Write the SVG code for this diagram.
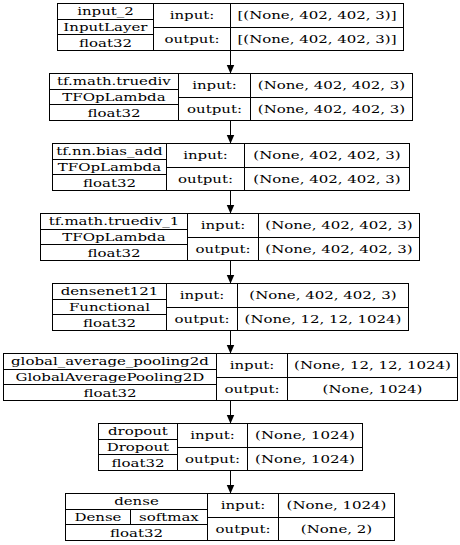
<svg xmlns="http://www.w3.org/2000/svg" width="460" height="545" viewBox="0 0 460 545">
<defs>
<style>
rect.box{fill:#fff;stroke:#000;stroke-width:1}
path.div{fill:none;stroke:#000;stroke-width:1}
text{font-family:"DejaVu Serif","Liberation Serif",serif;font-size:11px;fill:#000;text-anchor:middle;transform-box:fill-box;transform-origin:center;transform:scaleX(1.36)}
.edge{fill:none;stroke:#000;stroke-width:1}
</style>
<marker id="ah" markerUnits="userSpaceOnUse" markerWidth="9" markerHeight="9" refX="9" refY="4" orient="auto"><path d="M0,0 L9,4 L0,8 z" fill="#000"/></marker>
</defs>
<rect width="460" height="545" fill="#fff"/>
<g id="edges">
<path class="edge" d="M230.5,50.5 V73.5" marker-end="url(#ah)"/>
<path class="edge" d="M230.5,120.5 V143.5" marker-end="url(#ah)"/>
<path class="edge" d="M230.5,190.5 V213.5" marker-end="url(#ah)"/>
<path class="edge" d="M230.5,260.5 V283.5" marker-end="url(#ah)"/>
<path class="edge" d="M230.5,330.5 V353.5" marker-end="url(#ah)"/>
<path class="edge" d="M230.5,400.5 V423.5" marker-end="url(#ah)"/>
<path class="edge" d="M230.5,470.5 V493.5" marker-end="url(#ah)"/>
</g>
<g id="input_2" transform="translate(0,3)">
<rect class="box" x="57.5" y="0.5" width="346" height="47"/>
<path class="div" d="M153.5,0.5V47.5M230.5,0.5V47.5M57.5,16.5H153.5M57.5,31.5H153.5M153.5,24.5H403.5"/>
<text x="105.5" y="12.5">input_2</text><text x="105.5" y="28">InputLayer</text><text x="105.5" y="44">float32</text>
<text x="192" y="16.5">input:</text><text x="192" y="40">output:</text>
<text x="317" y="16.5">[(None, 402, 402, 3)]</text><text x="317" y="40">[(None, 402, 402, 3)]</text>
</g>
<g id="tf_math_truediv" transform="translate(0,73)">
<rect class="box" x="49.5" y="0.5" width="363" height="47"/>
<path class="div" d="M178.5,0.5V47.5M250.5,0.5V47.5M49.5,16.5H178.5M49.5,31.5H178.5M178.5,24.5H412.5"/>
<text x="114" y="12.5">tf.math.truediv</text><text x="114" y="28">TFOpLambda</text><text x="114" y="44">float32</text>
<text x="214.5" y="16.5">input:</text><text x="214.5" y="40">output:</text>
<text x="331.5" y="16.5">(None, 402, 402, 3)</text><text x="331.5" y="40">(None, 402, 402, 3)</text>
</g>
<g id="tf_nn_bias_add" transform="translate(0,143)">
<rect class="box" x="52.5" y="0.5" width="357" height="47"/>
<path class="div" d="M166.5,0.5V47.5M244.5,0.5V47.5M52.5,16.5H166.5M52.5,31.5H166.5M166.5,24.5H409.5"/>
<text x="109.5" y="12.5">tf.nn.bias_add</text><text x="109.5" y="28">TFOpLambda</text><text x="109.5" y="44">float32</text>
<text x="205.5" y="16.5">input:</text><text x="205.5" y="40">output:</text>
<text x="327" y="16.5">(None, 402, 402, 3)</text><text x="327" y="40">(None, 402, 402, 3)</text>
</g>
<g id="tf_math_truediv_1" transform="translate(0,213)">
<rect class="box" x="40.5" y="0.5" width="379" height="47"/>
<path class="div" d="M187.5,0.5V47.5M258.5,0.5V47.5M40.5,16.5H187.5M40.5,31.5H187.5M187.5,24.5H419.5"/>
<text x="114" y="12.5">tf.math.truediv_1</text><text x="114" y="28">TFOpLambda</text><text x="114" y="44">float32</text>
<text x="223" y="16.5">input:</text><text x="223" y="40">output:</text>
<text x="339" y="16.5">(None, 402, 402, 3)</text><text x="339" y="40">(None, 402, 402, 3)</text>
</g>
<g id="densenet121" transform="translate(0,283)">
<rect class="box" x="52.5" y="0.5" width="356" height="47"/>
<path class="div" d="M166.5,0.5V47.5M237.5,0.5V47.5M52.5,16.5H166.5M52.5,31.5H166.5M166.5,24.5H408.5"/>
<text x="109.5" y="12.5">densenet121</text><text x="109.5" y="28">Functional</text><text x="109.5" y="44">float32</text>
<text x="202" y="16.5">input:</text><text x="202" y="40">output:</text>
<text x="323" y="16.5">(None, 402, 402, 3)</text><text x="323" y="40">(None, 12, 12, 1024)</text>
</g>
<g id="global_average_pooling2d" transform="translate(0,353)">
<rect class="box" x="3.5" y="0.5" width="454" height="47"/>
<path class="div" d="M216.5,0.5V47.5M287.5,0.5V47.5M3.5,16.5H216.5M3.5,31.5H216.5M216.5,24.5H457.5"/>
<text x="110" y="12.5">global_average_pooling2d</text><text x="110" y="28">GlobalAveragePooling2D</text><text x="110" y="44">float32</text>
<text x="252" y="16.5">input:</text><text x="252" y="40">output:</text>
<text x="372.5" y="16.5">(None, 12, 12, 1024)</text><text x="372.5" y="40">(None, 1024)</text>
</g>
<g id="dropout" transform="translate(0,423)">
<rect class="box" x="98.5" y="0.5" width="264" height="47"/>
<path class="div" d="M177.5,0.5V47.5M247.5,0.5V47.5M98.5,16.5H177.5M98.5,31.5H177.5M177.5,24.5H362.5"/>
<text x="138" y="12.5">dropout</text><text x="138" y="28">Dropout</text><text x="138" y="44">float32</text>
<text x="212.5" y="16.5">input:</text><text x="212.5" y="40">output:</text>
<text x="305" y="16.5">(None, 1024)</text><text x="305" y="40">(None, 1024)</text>
</g>
<g id="dense" transform="translate(0,493)">
<rect class="box" x="65.5" y="0.5" width="329" height="47"/>
<path class="div" d="M207.5,0.5V47.5M278.5,0.5V47.5M65.5,16.5H207.5M65.5,31.5H207.5M130.5,16.5V31.5M207.5,24.5H394.5"/>
<text x="136.5" y="12.5">dense</text><text x="98" y="28">Dense</text><text x="169" y="28">softmax</text><text x="136.5" y="44">float32</text>
<text x="243" y="16.5">input:</text><text x="243" y="40">output:</text>
<text x="336.5" y="16.5">(None, 1024)</text><text x="336.5" y="40">(None, 2)</text>
</g>
</svg>
